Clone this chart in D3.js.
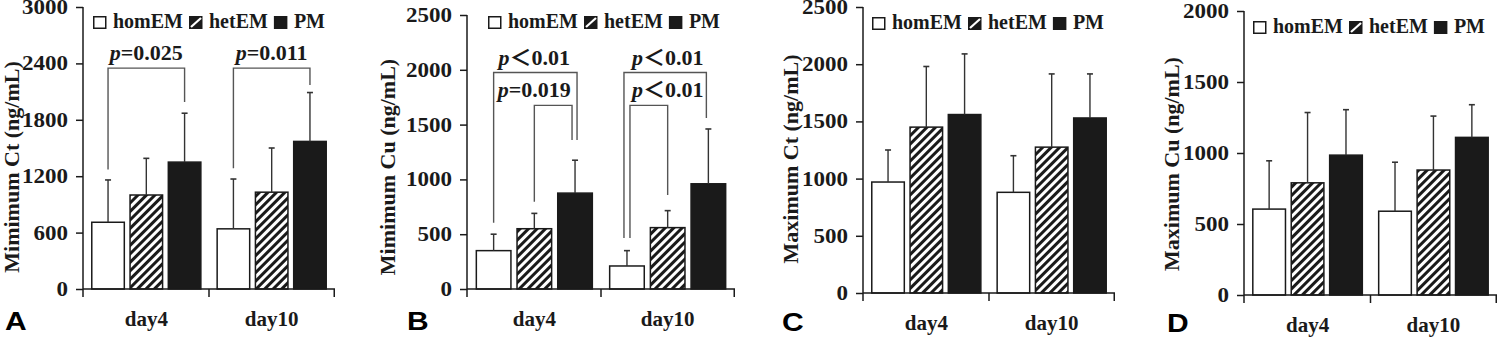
<!DOCTYPE html>
<html>
<head>
<meta charset="utf-8">
<script src="https://cdn.jsdelivr.net/npm/d3@7"></script>
<style>
  body { margin: 0; background: #fff; }
</style>
</head>
<body>
<div id="chart"></div>
<script>
// categories and series
var categories = ["day4", "day10"];
var groups = ["homEM", "hetEM", "PM"];

// mean and upper SD, one row per category (homEM, hetEM, PM)
var minCtMean = [[710, 1000, 1350], [640, 1030, 1570]];
var minCtSD   = [[450, 390, 520], [530, 470, 520]];
var minCuMean = [[350, 550, 875], [210, 560, 960]];
var minCuSD   = [[150, 140, 300], [140, 155, 500]];
var maxCtMean = [[970, 1450, 1560], [880, 1275, 1530]];
var maxCtSD   = [[280, 530, 530], [320, 640, 385]];
var maxCuMean = [[605, 790, 985], [590, 880, 1110]];
var maxCuSD   = [[340, 495, 320], [345, 380, 230]];

// y tick labels
var minCtTicks = [0, 600, 1200, 1800, 2400, 3000];
var minCuTicks = [0, 500, 1000, 1500, 2000, 2500];
var maxCtTicks = [0, 500, 1000, 1500, 2000, 2500];
var maxCuTicks = [0, 500, 1000, 1500, 2000];

// significance brackets (values in ng/mL)
var minCtBrackets = [
  {cat: 0, from: 0, to: 2, top: 2350, leftEnd: 1270, rightEnd: 1990, sign: "=", p: "0.025"},
  {cat: 1, from: 0, to: 2, top: 2350, leftEnd: 1285, rightEnd: 2170, sign: "=", p: "0.011"}
];
var minCuBrackets = [
  {cat: 0, from: 0, to: 2, top: 1975, leftEnd: 605, rightEnd: 1360, sign: "\uFF1C", p: "0.01", dl: 0, dr: 2},
  {cat: 0, from: 1, to: 2, top: 1675, leftEnd: 797, rightEnd: 1360, sign: "=", p: "0.019", dl: 0, dr: -3, tFrom: 0, tTo: 2},
  {cat: 1, from: 0, to: 2, top: 1975, leftEnd: 465, rightEnd: 1560, sign: "\uFF1C", p: "0.01", dl: -3, dr: -2},
  {cat: 1, from: 0, to: 1, top: 1675, leftEnd: 465, rightEnd: 858, sign: "\uFF1C", p: "0.01", dl: 3, dr: 0, tFrom: 0, tTo: 2}
];

var panels = [
  {letter: "A", label: "Mimimum Ct (ng/mL)", mean: minCtMean, sd: minCtSD, ticks: minCtTicks, brackets: minCtBrackets,
   left: 83, right: 335, top: 7, bottom: 289, lx: 93, ly: 16, labX: 12, labY: 167, letX: 5, letY: 330},
  {letter: "B", label: "Mimimum Cu (ng/mL)", mean: minCuMean, sd: minCuSD, ticks: minCuTicks, brackets: minCuBrackets,
   left: 467, right: 735, top: 15, bottom: 289, lx: 488, ly: 16, labX: 388, labY: 167, letX: 407, letY: 330},
  {letter: "C", label: "Maximum Ct (ng/mL)", mean: maxCtMean, sd: maxCtSD, ticks: maxCtTicks, brackets: [],
   left: 863, right: 1115, top: 7, bottom: 293, lx: 872, ly: 17, labX: 791, labY: 159, letX: 782, letY: 331},
  {letter: "D", label: "Maximum Cu (ng/mL)", mean: maxCuMean, sd: maxCuSD, ticks: maxCuTicks, brackets: [],
   left: 1244, right: 1497, top: 11, bottom: 295, lx: 1253, ly: 21, labX: 1172, labY: 164, letX: 1167, letY: 332}
];

var serif = "'Liberation Serif', 'Times New Roman', 'Noto Sans CJK SC', serif";
var ink = "#1a1a1a";

var svg = d3.select("#chart").append("svg")
    .attr("width", 1498)
    .attr("height", 339)
    .style("display", "block");

// hatch pattern for hetEM
var defs = svg.append("defs");
var hatch = defs.append("pattern")
    .attr("id", "hatch")
    .attr("patternUnits", "userSpaceOnUse")
    .attr("width", 6)
    .attr("height", 6)
    .attr("patternTransform", "rotate(45)");
hatch.append("rect").attr("width", 6).attr("height", 6).attr("fill", "#fff");
hatch.append("rect").attr("width", 3).attr("height", 6).attr("fill", ink);

var fills = ["#fff", "url(#hatch)", ink];
var legendFills = ["#fff", ink, ink];

function drawPanel(cfg) {
  var g = svg.append("g");

  var y = d3.scaleLinear()
      .domain([0, d3.max(cfg.ticks)])
      .range([cfg.bottom, cfg.top]);
  var x0 = d3.scaleBand()
      .domain(categories)
      .range([cfg.left, cfg.right])
      .paddingInner(0.13)
      .paddingOuter(0.07);
  var x1 = d3.scaleBand()
      .domain(groups)
      .range([0, x0.bandwidth()])
      .paddingInner(0.15);

  function cx(ci, gi, dx) {
    return x0(categories[ci]) + x1(groups[gi]) + x1.bandwidth() / 2 + (dx || 0);
  }

  // bars
  categories.forEach(function(cat, ci) {
    g.selectAll(null)
      .data(groups)
      .enter().append("rect")
        .attr("x", function(d) { return x0(cat) + x1(d); })
        .attr("y", function(d, gi) { return y(cfg.mean[ci][gi]); })
        .attr("width", x1.bandwidth())
        .attr("height", function(d, gi) { return y(0) - y(cfg.mean[ci][gi]); })
        .attr("fill", function(d, gi) { return fills[gi]; })
        .attr("stroke", ink)
        .attr("stroke-width", 1.5);

    // error bars (upper only)
    groups.forEach(function(grp, gi) {
      var c = cx(ci, gi);
      var top = y(cfg.mean[ci][gi] + cfg.sd[ci][gi]);
      g.append("line")
        .attr("x1", c).attr("x2", c)
        .attr("y1", y(cfg.mean[ci][gi])).attr("y2", top)
        .attr("stroke", "#333").attr("stroke-width", 1.4);
      g.append("line")
        .attr("x1", c - 3).attr("x2", c + 3)
        .attr("y1", top).attr("y2", top)
        .attr("stroke", "#333").attr("stroke-width", 1.6);
    });
  });

  // y axis
  var yAxis = g.append("g")
      .attr("transform", "translate(" + cfg.left + ",0)")
      .call(d3.axisLeft(y).tickValues(cfg.ticks).tickSize(7).tickPadding(6).tickFormat(d3.format("d")));
  yAxis.select(".domain").remove();
  yAxis.selectAll(".tick line").attr("stroke", ink).attr("stroke-width", 1.5);
  yAxis.selectAll(".tick text")
      .attr("fill", ink)
      .style("font-family", serif)
      .style("font-weight", "bold")
      .style("font-size", "20px")
      .attr("transform", "scale(1.15,1)");

  g.append("line")
    .attr("x1", cfg.left).attr("x2", cfg.left)
    .attr("y1", cfg.top).attr("y2", y(0) + 8)
    .attr("stroke", ink).attr("stroke-width", 1.5);

  // x axis
  g.append("line")
    .attr("x1", cfg.left).attr("x2", cfg.right)
    .attr("y1", y(0)).attr("y2", y(0))
    .attr("stroke", ink).attr("stroke-width", 1.5);
  var mid = (x0(categories[0]) + x0.bandwidth() + x0(categories[1])) / 2;
  [mid, cfg.right - 0.75].forEach(function(xx) {
    g.append("line")
      .attr("x1", xx).attr("x2", xx)
      .attr("y1", y(0)).attr("y2", y(0) + 8)
      .attr("stroke", ink).attr("stroke-width", 1.5);
  });

  g.selectAll(null)
    .data(categories)
    .enter().append("text")
      .attr("x", function(d) { return x0(d) + x0.bandwidth() / 2; })
      .attr("y", y(0) + 37)
      .attr("text-anchor", "middle")
      .attr("fill", ink)
      .style("font-family", serif)
      .style("font-weight", "bold")
      .style("font-size", "21px")
      .text(function(d) { return d; });

  // y axis title
  g.append("text")
    .attr("transform", "translate(" + (cfg.labX + 7) + "," + cfg.labY + ")rotate(-90)")
    .attr("text-anchor", "middle")
    .attr("fill", ink)
    .style("font-family", serif)
    .style("font-weight", "bold")
    .style("font-size", "22px")
    .text(cfg.label);

  // panel letter
  g.append("text")
    .attr("transform", "translate(" + cfg.letX + "," + cfg.letY + ")scale(1.2,1)")
    .attr("fill", "#000")
    .style("font-family", "'Liberation Sans', Arial, sans-serif")
    .style("font-weight", "bold")
    .style("font-size", "25px")
    .text(cfg.letter);

  // legend
  var lg = g.append("g").attr("transform", "translate(" + cfg.lx + "," + cfg.ly + ")");
  var off = 0;
  groups.forEach(function(grp, gi) {
    lg.append("rect")
      .attr("x", off + 0.75).attr("y", 0.75)
      .attr("width", 12).attr("height", 11.5)
      .attr("fill", legendFills[gi])
      .attr("stroke", ink).attr("stroke-width", 1.5);
    if (gi === 1) {
      // single white diagonal for the hatched key
      lg.append("line")
        .attr("x1", off + 2).attr("y1", 11)
        .attr("x2", off + 12).attr("y2", 2)
        .attr("stroke", "#fff").attr("stroke-width", 2.2);
    }
    var t = lg.append("text")
      .attr("x", off + 20).attr("y", 11.5)
      .attr("fill", ink)
      .style("font-family", serif)
      .style("font-weight", "bold")
      .style("font-size", "20px")
      .text(grp);
    off += 20 + t.node().getComputedTextLength() + 6;
  });

  // significance brackets
  cfg.brackets.forEach(function(b) {
    var xl = cx(b.cat, b.from, b.dl), xr = cx(b.cat, b.to, b.dr);
    g.append("path")
      .attr("d", "M" + xl + "," + y(b.leftEnd) + "V" + y(b.top) + "H" + xr + "V" + y(b.rightEnd))
      .attr("fill", "none")
      .attr("stroke", "#555")
      .attr("stroke-width", 1.4);
    var tf = b.tFrom != null ? b.tFrom : b.from, tt = b.tTo != null ? b.tTo : b.to;
    var t = g.append("text")
      .attr("x", (cx(b.cat, tf) + cx(b.cat, tt)) / 2)
      .attr("y", y(b.top) - 8)
      .attr("text-anchor", "middle")
      .attr("fill", ink)
      .style("font-family", serif)
      .style("font-weight", "bold")
      .style("font-size", "22px");
    t.append("tspan").style("font-style", "italic").text("p");
    t.append("tspan").text(b.sign + b.p);
  });
}

panels.forEach(drawPanel);
</script>
</body>
</html>
